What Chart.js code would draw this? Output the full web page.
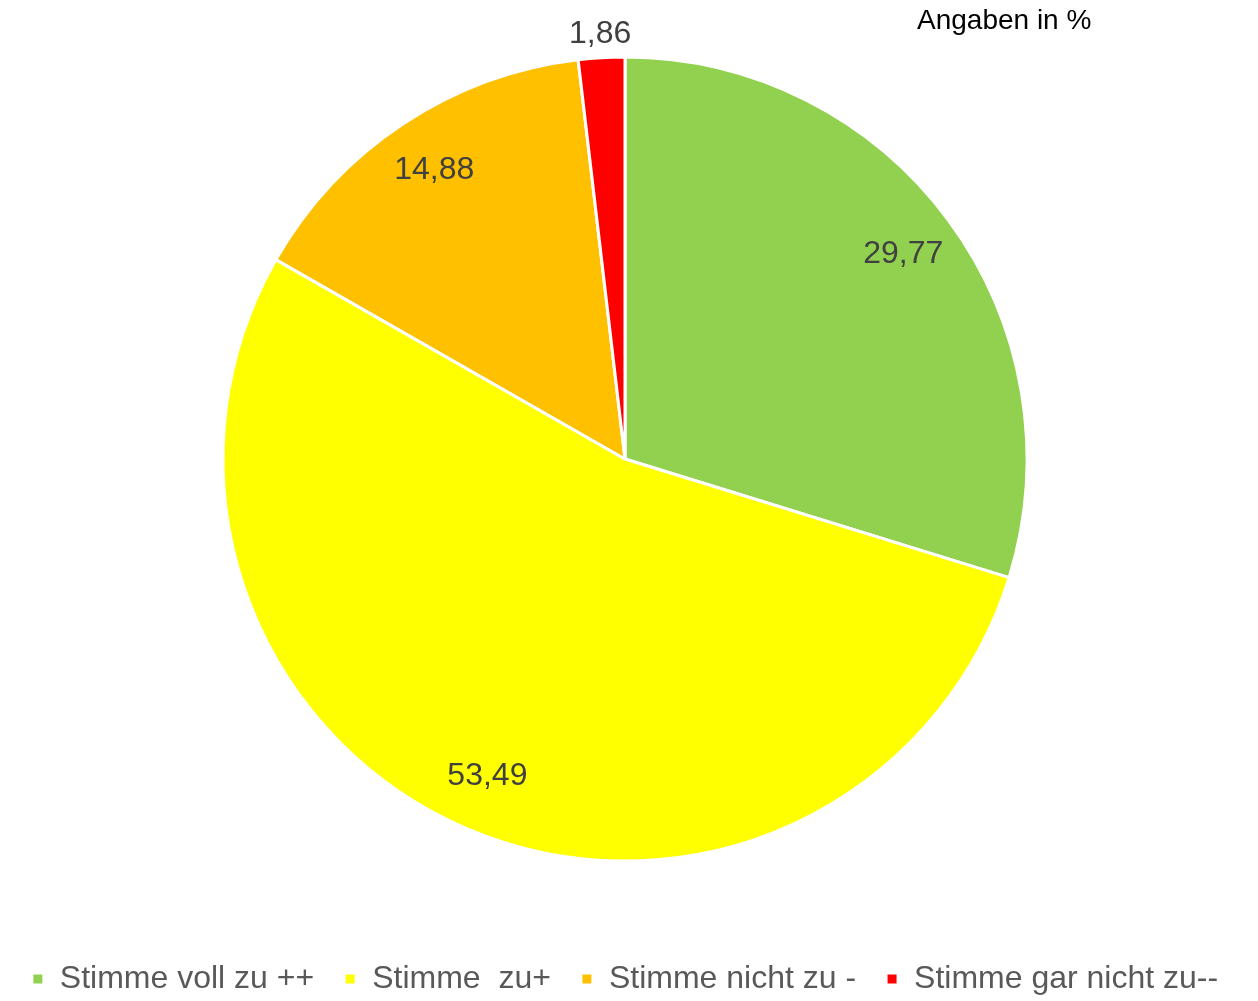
<!DOCTYPE html>
<html>
<head>
<meta charset="utf-8">
<script src="https://cdn.jsdelivr.net/npm/chart.js@4"></script>
<style>
  html, body { margin: 0; padding: 0; background: #fff; overflow: hidden; }
  #wrap { width: 1258px; height: 1001px; overflow: hidden; }
  /* canvas is a bit taller than the page and pulled up, so the pie sits high */
  #pieChart { display: block; margin-top: -15px; }
</style>
</head>
<body>
<div id="wrap"><canvas id="pieChart" width="1258" height="1020"></canvas></div>
<script>
// --- data ---
const categories = ['Stimme voll zu ++', 'Stimme  zu+', 'Stimme nicht zu -', 'Stimme gar nicht zu--'];
const shares = [29.77, 53.49, 14.88, 1.86];
const sliceColors = ['#92D050', '#FFFF00', '#FFC000', '#FF0000'];
const noteText = 'Angaben in %';

const fontFamily = '"Liberation Sans", Arial, sans-serif';

// value labels on the slices (German decimal comma)
const sliceLabels = {
    id: 'sliceLabels',
    afterDatasetsDraw(chart) {
        const ctx = chart.ctx;
        const arcs = chart.getDatasetMeta(0).data;
        ctx.save();
        ctx.font = '32px ' + fontFamily;
        ctx.fillStyle = '#404040';
        ctx.textAlign = 'center';
        ctx.textBaseline = 'middle';
        arcs.forEach((arc, i) => {
            const p = arc.getProps(['x', 'y', 'startAngle', 'endAngle', 'outerRadius'], true);
            const mid = (p.startAngle + p.endAngle) / 2;
            // tiny slice gets its label outside the pie
            const r = shares[i] < 5 ? p.outerRadius + 24 : p.outerRadius * 0.86;
            const txt = shares[i].toFixed(2).replace('.', ',');
            ctx.fillText(txt, p.x + Math.cos(mid) * r, p.y + Math.sin(mid) * r);
        });
        ctx.restore();
    }
};

// small note at top right
const cornerNote = {
    id: 'cornerNote',
    afterDraw(chart) {
        const ctx = chart.ctx;
        ctx.save();
        ctx.font = '28px ' + fontFamily;
        ctx.fillStyle = '#000000';
        ctx.textAlign = 'left';
        ctx.textBaseline = 'middle';
        ctx.fillText(noteText, 917, 36);
        ctx.restore();
    }
};

new Chart(document.getElementById('pieChart').getContext('2d'), {
    type: 'pie',
    data: {
        labels: categories,
        datasets: [{
            data: shares,
            backgroundColor: sliceColors,
            borderColor: '#ffffff',
            borderWidth: 3,
            hoverOffset: 0
        }]
    },
    options: {
        responsive: false,
        animation: false,
        radius: 402,
        layout: { padding: { left: 0, right: 8, top: 0, bottom: 0 } },
        plugins: {
            tooltip: { enabled: false },
            legend: {
                position: 'bottom',
                labels: {
                    boxWidth: 12,
                    boxHeight: 12,
                    padding: 30,
                    color: '#595959',
                    font: { family: fontFamily, size: 32, lineHeight: 0.8 }
                }
            }
        }
    },
    plugins: [sliceLabels, cornerNote]
});
</script>
</body>
</html>
